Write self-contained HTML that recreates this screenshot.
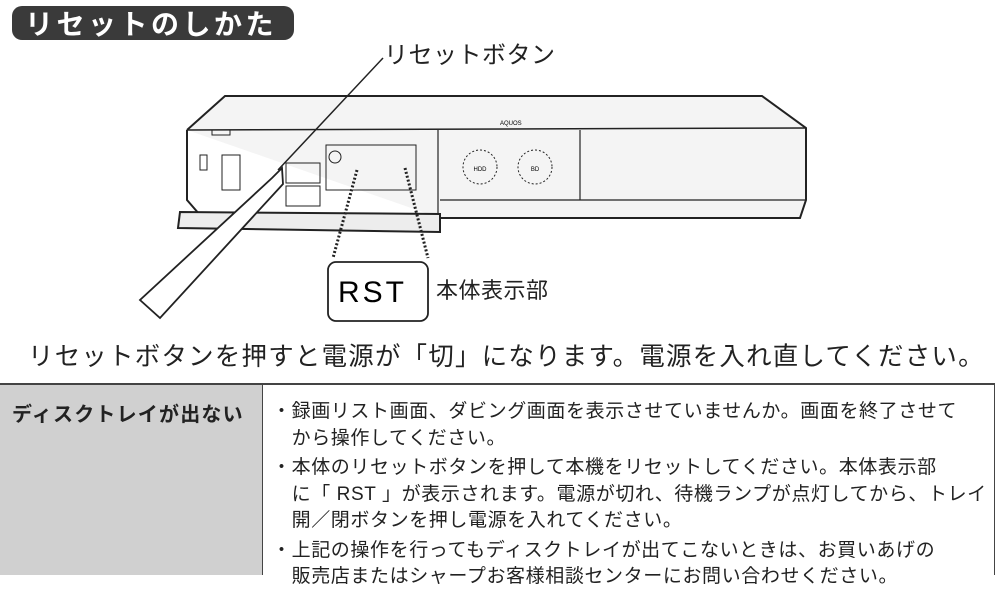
<!DOCTYPE html>
<html><head><meta charset="utf-8"><style>
body{margin:0;width:999px;height:605px;background:#fff;position:relative;overflow:hidden;font-family:"Liberation Sans","Noto Sans CJK JP",sans-serif;color:#222}
.a{position:absolute;white-space:nowrap}
</style></head><body>
<div class="a" style="left:12px;top:6px;width:282px;height:34px;background:#3a3a3a;border-radius:10px;"></div>
<div class="a" style="left:25px;top:3px;font-size:28px;color:#fff;font-weight:bold;letter-spacing:3.5px">リセットのしかた</div>
<div class="a" style="left:384px;top:35px;font-size:24px;letter-spacing:0.5px">リセットボタン</div>
<svg class="a" style="left:0;top:0" width="999" height="340">
<g fill="none" stroke="#222" stroke-width="2">
<path d="M187 130 L225 96 L762 96 L806 128 L806 200 L800 218 L440 218" fill="#f4f4f4"/>
<path d="M187 130 L806 128" stroke-width="1.5"/>
<path d="M187 130 L187 200 L200 215"/>
<path d="M180 212 L440 214 L440 232 L178 228 Z" fill="#ededed"/>
<path d="M438 130 L438 214 M580 130 L580 200 M440 200 L806 200" stroke-width="1.2"/>
<rect x="326" y="145" width="90" height="45" stroke-width="1"/>
<rect x="222" y="155" width="18" height="35" stroke-width="1"/>
<rect x="286" y="163" width="34" height="20" stroke-width="1"/>
<rect x="286" y="186" width="34" height="20" stroke-width="1"/>
<circle cx="335" cy="157" r="6" stroke-width="1"/>
<circle cx="480" cy="167" r="17" stroke-width="1" stroke-dasharray="2 2"/>
<circle cx="535" cy="167" r="17" stroke-width="1" stroke-dasharray="2 2"/>
<rect x="200" y="155" width="7" height="15" stroke-width="1"/>
<rect x="212" y="130" width="18" height="5" stroke-width="1"/>
<path d="M383 58 L278 170" stroke-width="1.5"/>
<path d="M272 178 L282 168 L283 184 L160 318 L140 300 Z" fill="#fff" stroke-width="1.8"/>
<path d="M357 170 L333 258 M405 168 L428 258" stroke-width="3" stroke-dasharray="2 2"/>
<rect x="328" y="262" width="100" height="59" rx="8" fill="#fff" stroke-width="1.8"/>
</g>
<text x="480" y="171" font-size="6" text-anchor="middle" font-family="Liberation Sans">HDD</text>
<text x="535" y="171" font-size="6" text-anchor="middle" font-family="Liberation Sans">BD</text>
<text x="500" y="125" font-size="6" font-family="Liberation Sans">AQUOS</text>
<text x="338" y="302" font-size="30" font-family="Liberation Sans" letter-spacing="3">RST</text>
</svg>
<div class="a" style="left:436px;top:273px;font-size:22px;letter-spacing:0.5px">本体表示部</div>
<div class="a" style="left:28px;top:337px;font-size:25.4px;letter-spacing:1.3px">リセットボタンを押すと電源が「切」になります。電源を入れ直してください。</div>
<div class="a" style="left:0;top:383px;width:995px;border-top:2px solid #444"></div>
<div class="a" style="left:0;top:385px;width:262px;height:190px;background:#d0d0d0;border-right:1.5px solid #444"></div>
<div class="a" style="left:994px;top:385px;height:190px;border-left:1.5px solid #444"></div>
<div class="a" style="left:12px;top:398px;font-size:20px;font-weight:bold;letter-spacing:1.2px">ディスクトレイが出ない</div>
<div class="a" style="left:272px;top:399px;font-size:19px;line-height:26.5px;letter-spacing:0.6px">
・録画リスト画面、ダビング画面を表示させていませんか。画面を終了させて<br>
　から操作してください。<br>
<div style="height:3px"></div>
・本体のリセットボタンを押して本機をリセットしてください。本体表示部<br>
　に「 RST 」が表示されます。電源が切れ、待機ランプが点灯してから、トレイ<br>
　開／閉ボタンを押し電源を入れてください。<br>
<div style="height:3px"></div>
・上記の操作を行ってもディスクトレイが出てこないときは、お買いあげの<br>
　販売店またはシャープお客様相談センターにお問い合わせください。</div>
</body></html>
